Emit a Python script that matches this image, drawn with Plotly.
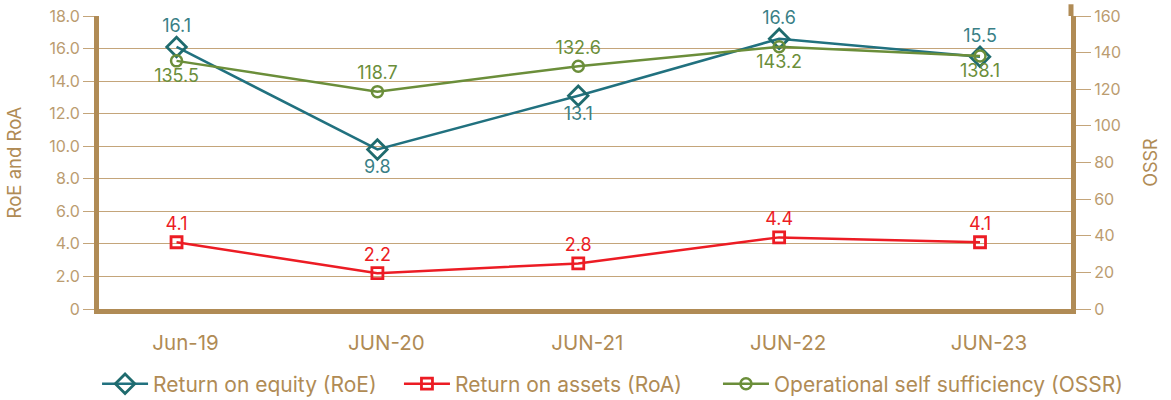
import plotly.graph_objects as go

categories = ["Jun-19", "JUN-20", "JUN-21", "JUN-22", "JUN-23"]
roe = [16.1, 9.8, 13.1, 16.6, 15.5]
roa = [4.1, 2.2, 2.8, 4.4, 4.1]
ossr = [135.5, 118.7, 132.6, 143.2, 138.1]

left_ticks = [0, 2, 4, 6, 8, 10, 12, 14, 16, 18]
left_ticktext = ["0", "2.0", "4.0", "6.0", "8.0", "10.0", "12.0", "14.0", "16.0", "18.0"]
right_ticks = [0, 20, 40, 60, 80, 100, 120, 140, 160]

FONT = "Inter"
TAN = "#b08b55"
TAN_LIGHT = "#bb9c70"
GRID = "#c4a57a"
TEAL = "#21717f"
TEAL_TXT = "#3a7f86"
RED = "#ec1c24"
GREEN = "#6b8e3a"

x = list(range(len(categories)))

fig = go.Figure()
fig.add_trace(go.Scatter(
    x=x, y=roe, name="Return on equity (RoE)", mode="lines+markers+text",
    line=dict(color=TEAL, width=2.5),
    marker=dict(symbol="diamond-open", size=15, color="#1f6b6e", line=dict(width=2.8)),
    text=[f"{v:.1f}" for v in roe],
    textposition=["top center", "bottom center", "bottom center", "top center", "top center"],
    textfont=dict(family=FONT, size=18, color=TEAL_TXT),
    yaxis="y", cliponaxis=False, legend="legend",
))
fig.add_trace(go.Scatter(
    x=x, y=roa, name="Return on assets (RoA)", mode="lines+markers+text",
    line=dict(color=RED, width=2.5),
    marker=dict(symbol="square-open", size=11, color=RED, line=dict(width=2.8)),
    text=[f"{v:.1f}" for v in roa],
    textposition="top center",
    textfont=dict(family=FONT, size=18, color=RED),
    yaxis="y", cliponaxis=False, legend="legend2",
))
fig.add_trace(go.Scatter(
    x=x, y=ossr, name="Operational self sufficiency (OSSR)", mode="lines+markers+text",
    line=dict(color=GREEN, width=2.5),
    marker=dict(symbol="circle-open", size=11, color=GREEN, line=dict(width=2.5)),
    text=[f"{v:.1f}" for v in ossr],
    textposition=["bottom center", "top center", "top center", "bottom center", "bottom center"],
    textfont=dict(family=FONT, size=18, color=GREEN),
    yaxis="y2", cliponaxis=False, legend="legend3",
))

def leg(xpos):
    return dict(orientation="h", x=xpos, xanchor="left", y=-0.256, yanchor="middle",
                font=dict(family=FONT, size=21, color=TAN), itemwidth=46,
                bgcolor="rgba(0,0,0,0)")

fig.update_layout(
    width=1171, height=400,
    margin=dict(l=99, r=100, t=16, b=91, autoexpand=False),
    paper_bgcolor="white", plot_bgcolor="white",
    font=dict(family=FONT, color=TAN),
    showlegend=True,
    legend=leg(-0.002),
    legend2=leg(0.3086),
    legend3=leg(0.6368),
    xaxis=dict(
        range=[-0.386, 4.453], tickvals=x, ticktext=categories,
        showgrid=False, zeroline=False, automargin=False,
        showline=True, linecolor=TAN, linewidth=5,
        ticks="", ticklabelstandoff=11, ticklabelshift=9,
        tickfont=dict(family=FONT, size=20.5, color=TAN),
    ),
    yaxis=dict(
        range=[0, 18], tickvals=left_ticks, ticktext=left_ticktext,
        showgrid=True, gridcolor=GRID, gridwidth=1.3, automargin=False,
        zeroline=False, showline=True, linecolor=TAN, linewidth=5,
        ticks="outside", ticklen=11, tickcolor=GRID, tickwidth=1.3,
        tickfont=dict(family=FONT, size=16, color=TAN_LIGHT),
        title=dict(text="RoE and RoA", font=dict(family=FONT, size=18.5, color=TAN), standoff=24),
    ),
    yaxis2=dict(
        range=[0, 160], tickvals=right_ticks, overlaying="y", side="right",
        showgrid=False, zeroline=False, showline=True, linecolor=TAN, linewidth=5,
        automargin=False,
        ticks="outside", ticklen=15, tickcolor=GRID, tickwidth=1.3,
        tickfont=dict(family=FONT, size=16, color=TAN_LIGHT),
        title=dict(text="OSSR", font=dict(family=FONT, size=18, color=TAN), standoff=26),
    ),
    shapes=[dict(type="line", xref="paper", yref="paper", x0=1, x1=1, y0=1, y1=1.04,
                 line=dict(color=TAN, width=5))],
)

fig.write_html("out.html", config={"displayModeBar": False},
               post_script="document.body.style.margin='0';document.body.style.padding='0';")
